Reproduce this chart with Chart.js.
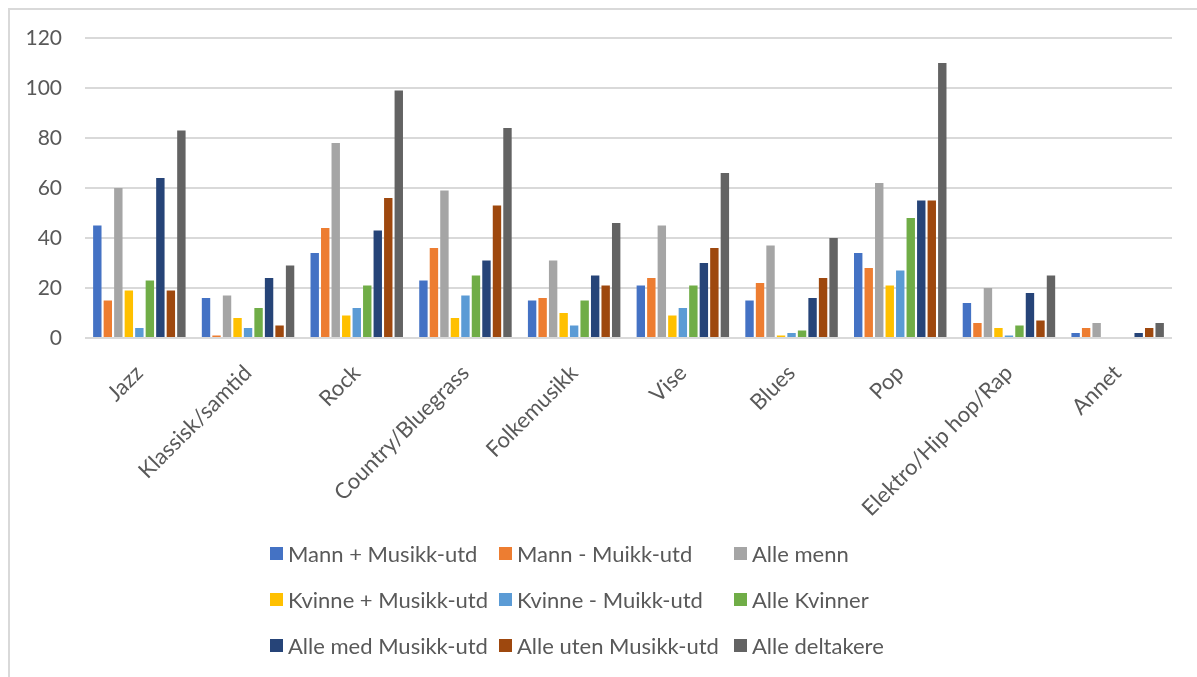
<!DOCTYPE html>
<html>
<head>
<meta charset="utf-8">
<script src="https://cdn.jsdelivr.net/npm/chart.js@4/dist/chart.umd.min.js"></script>
<style>
  html, body { margin: 0; padding: 0; background: #fff; }
  body { width: 1197px; height: 677px; position: relative; overflow: hidden; font-family: Lato, "Noto Sans", sans-serif; }
  .edge { position: absolute; background: #d9d9d9; }
  #edgeTop { left: 8px; top: 8px; width: 1189px; height: 2px; }
  #edgeLeft { left: 8px; top: 8px; width: 2px; height: 669px; }
  #wrap { position: absolute; left: 0; top: 0; width: 1197px; height: 677px; }
  #legend { position: absolute; left: 270px; top: 541px; display: grid; grid-template-columns: 229px 235px 200px; row-gap: 22px; margin: 0; padding: 0; list-style: none; }
  #legend li { display: flex; align-items: center; height: 24px; font-size: 22px; color: #595959; white-space: nowrap; }
  #legend .box { width: 13px; height: 13px; margin-right: 5px; flex: none; }
</style>
</head>
<body>
<div class="edge" id="edgeTop"></div>
<div class="edge" id="edgeLeft"></div>
<div id="wrap"><canvas id="chart" width="1197" height="677"></canvas></div>
<ul id="legend"></ul>
<script>
const categories = ["Jazz", "Klassisk/samtid", "Rock", "Country/Bluegrass", "Folkemusikk", "Vise", "Blues", "Pop", "Elektro/Hip hop/Rap", "Annet"];

const mannMedUtd    = [45, 16, 34, 23, 15, 21, 15, 34, 14, 2];
const mannUtenUtd   = [15, 1, 44, 36, 16, 24, 22, 28, 6, 4];
const alleMenn      = [60, 17, 78, 59, 31, 45, 37, 62, 20, 6];
const kvinneMedUtd  = [19, 8, 9, 8, 10, 9, 1, 21, 4, 0];
const kvinneUtenUtd = [4, 4, 12, 17, 5, 12, 2, 27, 1, 0];
const alleKvinner   = [23, 12, 21, 25, 15, 21, 3, 48, 5, 0];
const alleMedUtd    = [64, 24, 43, 31, 25, 30, 16, 55, 18, 2];
const alleUtenUtd   = [19, 5, 56, 53, 21, 36, 24, 55, 7, 4];
const alleDeltakere = [83, 29, 99, 84, 46, 66, 40, 110, 25, 6];

const yTicks = [0, 20, 40, 60, 80, 100, 120];

const series = [
  ["Mann + Musikk-utd", mannMedUtd, "#4472C4"],
  ["Mann - Muikk-utd", mannUtenUtd, "#ED7D31"],
  ["Alle menn", alleMenn, "#A5A5A5"],
  ["Kvinne + Musikk-utd", kvinneMedUtd, "#FFC000"],
  ["Kvinne - Muikk-utd", kvinneUtenUtd, "#5B9BD5"],
  ["Alle Kvinner", alleKvinner, "#70AD47"],
  ["Alle med Musikk-utd", alleMedUtd, "#264478"],
  ["Alle uten Musikk-utd", alleUtenUtd, "#9E480E"],
  ["Alle deltakere", alleDeltakere, "#636363"]
];

const textColor = "#595959";
const gridColor = "#d9d9d9";

const chart = new Chart(document.getElementById("chart").getContext("2d"), {
  type: "bar",
  data: {
    labels: categories,
    datasets: series.map(([label, data, color]) => ({
      label: label,
      data: data,
      backgroundColor: color,
      categoryPercentage: 0.87,
      barPercentage: 0.8
    }))
  },
  options: {
    responsive: false,
    animation: false,
    layout: { padding: { top: 38, right: 25, left: 0, bottom: 149 } },
    plugins: { legend: { display: false }, tooltip: { enabled: false } },
    scales: {
      x: {
        grid: { display: false },
        border: { display: false },
        ticks: {
          color: textColor,
          font: { family: "Lato", size: 22 },
          minRotation: 45,
          maxRotation: 45,
          autoSkip: false,
          padding: 14
        },
        afterFit: (scale) => { scale.height = 190; }
      },
      y: {
        min: 0,
        max: 120,
        afterBuildTicks: (scale) => { scale.ticks = yTicks.map(v => ({ value: v })); },
        grid: { color: gridColor, lineWidth: 2, drawTicks: false },
        border: { display: false },
        ticks: {
          color: textColor,
          font: { family: "Lato", size: 21 },
          padding: 23
        },
        afterFit: (scale) => { scale.width = 85; }
      }
    }
  }
});

// legend as a 3-column grid below the chart
const legend = document.getElementById("legend");
chart.data.datasets.forEach((ds) => {
  const li = document.createElement("li");
  li.innerHTML = `<span class="box" style="background:${ds.backgroundColor}"></span><span>${ds.label}</span>`;
  legend.appendChild(li);
});
</script>
</body>
</html>
